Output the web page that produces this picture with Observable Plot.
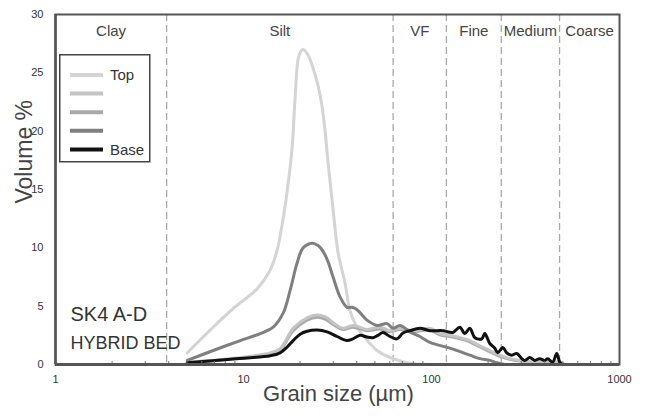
<!DOCTYPE html>
<html><head><meta charset="utf-8">
<script src="https://cdn.jsdelivr.net/npm/d3@7"></script>
<script src="https://cdn.jsdelivr.net/npm/@observablehq/plot@0.6"></script>
<style>
body{margin:0;background:#fff;}
#wrap{position:relative;width:646px;height:417px;}
#legend{position:absolute;left:59px;top:54px;}
</style></head><body><div id="wrap"></div>
<script>
// Series (grain size in µm, volume %)
const seriesNames = ["Top", "", "", "", "Base"];
const seriesColors = ["#d4d4d4", "#c4c4c4", "#a9a9a9", "#7f7f7f", "#111111"];

const topSize = [5.02, 6.90, 8.82, 11.83, 13.87, 15.10, 15.86, 16.86, 18.14, 18.82, 19.76, 20.76, 22.07, 23.45, 24.93, 26.18, 27.16, 28.18, 29.95, 31.84, 34.68, 36.87, 40.18, 45.39, 51.29, 60.14, 76.8, 110.8];
const topVol  = [1.0, 3.2, 4.8, 6.5, 8.1, 9.8, 11.5, 14.2, 18.6, 22.9, 26.5, 27.0, 26.5, 25.4, 23.9, 22.1, 20.0, 17.3, 13.3, 9.6, 7.0, 4.6, 3.2, 2.1, 1.2, 0.6, 0.1, 0];

const s2Size = [5.02, 8.50, 13.87, 15.66, 18.37, 21.80, 24.63, 27.16, 29.95, 33.84, 38.23, 45.39, 53.21, 60.14, 67.96, 79.6, 98.06, 110.8, 125.2, 141.5, 159.9, 180.7, 204.2, 230.8, 260.8, 294.8, 362.9, 480.9, 510.9];
const s2Vol  = [0.2, 0.5, 1.0, 1.35, 3.1, 4.0, 4.25, 4.1, 3.6, 3.1, 3.35, 3.0, 3.2, 2.9, 3.1, 2.9, 3.1, 2.65, 2.5, 2.3, 2.05, 1.6, 1.2, 0.8, 0.5, 0.35, 0.2, 0.2, 0];
const s3Vol  = [0.18, 0.45, 0.9, 1.25, 2.9, 3.8, 4.05, 3.9, 3.45, 3.0, 3.2, 2.9, 3.05, 2.8, 3.0, 2.8, 2.95, 2.55, 2.4, 2.2, 1.95, 1.5, 1.1, 0.7, 0.45, 0.3, 0.15, 0.15, 0];

const s4Size = [5.02, 6.90, 9.61, 12.27, 14.38, 16.25, 17.70, 19.28, 20.76, 23.17, 24.93, 26.50, 28.18, 29.95, 32.62, 35.54, 37.78, 40.18, 45.39, 51.29, 57.96, 62.37, 67.96, 76.8, 86.79, 98.06, 125.2, 159.9, 180.7, 204.2, 222.5, 245.4];
const s4Vol  = [0.35, 1.2, 2.05, 2.65, 3.2, 4.4, 6.35, 8.7, 10.0, 10.4, 10.2, 9.7, 8.8, 7.5, 5.8, 4.9, 4.9, 4.7, 3.8, 3.35, 3.5, 3.1, 3.35, 2.8, 2.4, 1.9, 1.4, 0.8, 0.5, 0.35, 0.15, 0];

const baseSize = [5.02, 8.50, 13.87, 15.66, 17.07, 18.37, 20.01, 21.80, 24.63, 27.83, 31.45, 35.54, 38.23, 41.68, 45.39, 48.85, 51.92, 55.20, 60.14, 65.52, 70.50, 76.8, 86.79, 98.06, 115.0, 129.9, 141.5, 150.4, 159.9, 170.1, 185.2, 192.1, 204.2, 217.1, 225.2, 239.4, 251.4, 267.3, 284.1, 302.1, 313.4, 333.2, 354.1, 376.5, 400.2, 415.2, 441.2, 463.4, 480.9, 498.6];
const baseVol  = [0.15, 0.45, 0.75, 1.0, 1.5, 2.05, 2.6, 2.85, 2.95, 2.8, 2.4, 2.05, 2.2, 2.5, 2.35, 2.3, 2.5, 2.75, 2.4, 2.2, 2.7, 2.9, 3.1, 2.9, 2.9, 2.75, 3.2, 2.65, 3.1, 2.3, 2.2, 2.65, 1.8, 1.4, 1.0, 1.45, 1.0, 0.8, 0.95, 0.5, 0.35, 0.6, 0.35, 0.5, 0.35, 0.5, 0.2, 0.95, 0.2, 0];

const classNames  = ["Clay", "Silt", "VF", "Fine", "Medium", "Coarse"];
const classBounds = [1, 3.9, 62.5, 120, 235, 480, 1000];
const yTicks = [0, 5, 10, 15, 20, 25, 30];
const xTicks = [1, 10, 100, 1000];
const xMinorTicks = [2, 3, 4, 5, 6, 7, 8, 9, 20, 30, 40, 50, 60, 70, 80, 90, 200, 300, 400, 500, 600, 700, 800, 900];
const sampleName = "SK4 A-D";
const bedType = "HYBRID BED";

const seriesSizes = [topSize, s2Size, s2Size, s4Size, baseSize];
const seriesVols = [topVol, s2Vol, s3Vol, s4Vol, baseVol];
const drawOrder = [0, 2, 1, 3, 4];

const font = "'Liberation Sans', Arial, sans-serif";

const lineMarks = drawOrder.map(i => Plot.line(d3.zip(seriesSizes[i], seriesVols[i]), {
  x: d => d[0], y: d => d[1], stroke: seriesColors[i], strokeWidth: 3, curve: "catmull-rom"
}));

const chart = Plot.plot({
  width: 646, height: 417,
  marginLeft: 55, marginRight: 27, marginTop: 14, marginBottom: 53,
  style: {fontFamily: font, background: "white"},
  x: {type: "log", domain: [1, 1000]},
  y: {domain: [0, 30]},
  marks: [
    Plot.ruleX(classBounds.slice(1, -1), {stroke: "#a8a8a8", strokeWidth: 1.3, strokeDasharray: "7,4"}),
    Plot.text(classNames, {x: (d, i) => Math.sqrt(classBounds[i] * classBounds[i + 1]), frameAnchor: "top", dy: 11, fontSize: 15, fill: "#444"}),
    ...lineMarks,
    Plot.axisX(xMinorTicks, {tickSize: -3, tickFormat: () => "", label: null, stroke: "#777"}),
    Plot.axisX(xTicks, {tickSize: 0, tickPadding: 11, tickFormat: d => String(d), label: null, fontSize: 11, fill: "#333"}),
    Plot.axisY(yTicks, {tickSize: 0, tickPadding: 12, label: null, fontSize: 11, fill: "#333"}),
    Plot.frame({stroke: "#555", strokeWidth: 2}),
    Plot.ruleY([0], {stroke: "#555", strokeWidth: 3}),
    Plot.ruleX([1], {stroke: "#555", strokeWidth: 2.5}),
    Plot.text([sampleName], {frameAnchor: "bottom-left", textAnchor: "start", dx: 15, dy: -44, fontSize: 20, fill: "#333"}),
    Plot.text([bedType], {frameAnchor: "bottom-left", textAnchor: "start", dx: 15, dy: -16, fontSize: 18, fill: "#333"}),
    Plot.text(["Volume %"], {frameAnchor: "left", rotate: -90, dx: -31, dy: 14, fontSize: 23, fill: "#444"}),
    Plot.text(["Grain size (µm)"], {frameAnchor: "bottom", dx: 1, dy: 36, fontSize: 22, fill: "#444"})
  ]
});

const wrap = document.getElementById("wrap");
wrap.appendChild(chart);

// Legend overlay built from the series arrays
const lg = d3.create("svg").attr("id", "legend").attr("width", 92).attr("height", 109)
  .style("font-family", font);
lg.append("rect").attr("x", 0.75).attr("y", 0.75).attr("width", 90).attr("height", 107)
  .attr("fill", "white").attr("stroke", "#444").attr("stroke-width", 1.5);
seriesNames.forEach((name, i) => {
  const yy = 21 + i * 18.6;
  lg.append("line").attr("x1", 11).attr("x2", 44).attr("y1", yy).attr("y2", yy)
    .attr("stroke", seriesColors[i]).attr("stroke-width", 4);
  if (name) lg.append("text").attr("x", 51).attr("y", yy).attr("dy", "0.35em")
    .attr("font-size", 15).attr("fill", "#333").text(name);
});
wrap.appendChild(lg.node());
</script></body></html>
